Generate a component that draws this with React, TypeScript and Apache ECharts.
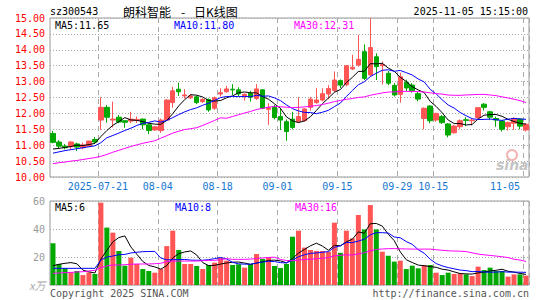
import React, { useEffect, useRef } from "react";
import * as echarts from "echarts";

const dates = [
  "2025-07-09", "2025-07-10", "2025-07-11", "2025-07-14", "2025-07-15", "2025-07-16", "2025-07-17", "2025-07-18",
  "2025-07-21", "2025-07-22", "2025-07-23", "2025-07-24", "2025-07-25", "2025-07-28", "2025-07-29", "2025-07-30",
  "2025-07-31", "2025-08-01", "2025-08-04", "2025-08-05", "2025-08-06", "2025-08-07", "2025-08-08", "2025-08-11",
  "2025-08-12", "2025-08-13", "2025-08-14", "2025-08-15", "2025-08-18", "2025-08-19", "2025-08-20", "2025-08-21",
  "2025-08-22", "2025-08-25", "2025-08-26", "2025-08-27", "2025-08-28", "2025-08-29", "2025-09-01", "2025-09-02",
  "2025-09-03", "2025-09-04", "2025-09-05", "2025-09-08", "2025-09-09", "2025-09-10", "2025-09-11", "2025-09-12",
  "2025-09-15", "2025-09-16", "2025-09-17", "2025-09-18", "2025-09-19", "2025-09-22", "2025-09-23", "2025-09-24",
  "2025-09-25", "2025-09-26", "2025-09-29", "2025-09-30", "2025-10-09", "2025-10-10", "2025-10-13", "2025-10-14",
  "2025-10-15", "2025-10-16", "2025-10-17", "2025-10-20", "2025-10-21", "2025-10-22", "2025-10-23", "2025-10-24",
  "2025-10-27", "2025-10-28", "2025-10-29", "2025-10-30", "2025-10-31", "2025-11-03", "2025-11-04", "2025-11-05",
];

const tickDates = ["2025-07-21", "2025-08-04", "2025-08-18", "2025-09-01", "2025-09-15", "2025-09-29", "2025-10-15", "2025-11-05"];

const opens = [
  11.37, 11.10, 10.97, 10.95, 11.04, 10.92, 10.97, 11.18, 11.79, 12.19,
  11.79, 11.88, 11.77, 11.76, 11.78, 11.82, 11.64, 11.48, 11.46, 11.79,
  12.34, 12.76, 12.55, 12.49, 12.52, 12.37, 12.44, 12.16, 12.61, 12.68,
  12.76, 12.74, 12.53, 12.63, 12.47, 12.74, 12.13, 12.19, 11.90, 11.74,
  11.82, 11.74, 11.77, 12.19, 12.34, 12.42, 12.61, 12.72, 13.03, 12.90,
  13.40, 13.52, 13.94, 13.21, 13.78, 13.50, 13.26, 12.88, 12.60, 12.98,
  12.89, 12.62, 11.84, 12.23, 11.79, 11.90, 11.67, 11.39, 11.58, 11.80,
  11.77, 11.87, 12.29, 12.05, 11.84, 11.76, 11.58, 11.69, 11.82, 11.48,
];
const closes = [
  11.09, 10.97, 10.92, 11.10, 10.94, 11.01, 11.13, 11.10, 12.19, 11.88,
  11.82, 11.73, 11.72, 11.82, 11.81, 11.64, 11.46, 11.58, 11.79, 12.42,
  12.71, 12.68, 12.58, 12.55, 12.34, 12.44, 12.11, 12.49, 12.65, 12.77,
  12.74, 12.61, 12.60, 12.51, 12.77, 12.16, 12.19, 11.87, 11.79, 11.43,
  11.56, 11.90, 12.14, 12.45, 12.42, 12.62, 12.78, 13.05, 12.89, 13.50,
  13.45, 13.70, 13.10, 14.07, 13.47, 13.54, 12.95, 12.58, 13.15, 12.80,
  12.71, 12.45, 12.16, 11.77, 12.00, 11.71, 11.32, 11.60, 11.77, 11.78,
  11.79, 12.18, 12.19, 11.88, 11.79, 11.50, 11.71, 11.84, 11.60, 11.66,
];
const lows = [
  11.06, 10.90, 10.87, 10.87, 10.82, 10.87, 10.95, 11.04, 11.48, 11.71,
  11.56, 11.69, 11.55, 11.69, 11.70, 11.50, 11.35, 11.45, 11.39, 11.79,
  12.18, 12.55, 12.47, 12.45, 12.29, 12.33, 12.05, 12.11, 12.53, 12.65,
  12.58, 12.53, 12.40, 12.37, 12.42, 12.13, 11.64, 11.81, 11.48, 11.14,
  11.50, 11.71, 11.74, 12.09, 12.30, 12.38, 12.45, 12.67, 12.80, 12.85,
  13.36, 13.47, 13.05, 13.16, 13.05, 12.91, 12.89, 12.53, 12.34, 12.70,
  12.65, 12.38, 11.50, 11.69, 11.74, 11.67, 11.25, 11.37, 11.50, 11.60,
  11.62, 11.81, 12.09, 11.79, 11.58, 11.43, 11.46, 11.48, 11.50, 11.43,
];
const highs = [
  11.45, 11.16, 11.04, 11.13, 11.08, 11.08, 11.14, 11.25, 12.51, 12.26,
  12.37, 11.95, 11.79, 12.05, 11.90, 11.84, 11.69, 11.60, 11.84, 12.44,
  12.84, 12.97, 12.76, 12.60, 12.55, 12.48, 12.47, 12.53, 12.79, 12.86,
  12.92, 12.82, 12.63, 12.71, 12.92, 12.76, 12.32, 12.26, 12.18, 11.81,
  12.05, 12.51, 12.16, 12.52, 12.79, 12.79, 12.89, 13.32, 13.07, 13.52,
  13.84, 14.47, 14.17, 14.99, 13.89, 13.63, 13.33, 12.95, 13.28, 13.06,
  12.95, 12.67, 12.19, 12.26, 12.02, 11.95, 11.69, 11.64, 11.81, 11.88,
  11.84, 12.19, 12.32, 12.08, 11.90, 11.79, 11.74, 11.88, 11.84, 11.69,
];
const volumes = [
  29.8, 15.0, 11.9, 9.0, 10.0, 7.1, 9.0, 7.9, 58.8, 41.0,
  37.4, 24.3, 13.8, 19.5, 15.0, 11.4, 10.0, 8.8, 11.4, 27.8,
  38.8, 25.0, 15.0, 15.0, 13.6, 11.4, 14.3, 16.0, 19.5, 17.4,
  14.3, 14.8, 12.4, 14.8, 22.1, 18.6, 19.8, 13.6, 12.1, 15.0,
  34.5, 38.8, 26.7, 25.0, 24.3, 24.3, 23.8, 44.5, 23.0, 38.8,
  33.3, 50.0, 39.7, 57.1, 39.7, 23.8, 20.9, 16.7, 17.4, 11.4,
  13.8, 11.9, 14.3, 14.3, 8.8, 7.1, 8.8, 7.9, 8.3, 7.6,
  6.4, 13.1, 10.7, 12.4, 10.0, 10.0, 6.0, 7.6, 7.6, 6.7,
];

// moving-average values before enough visible history exists
const ma5Head = [10.88, 10.90, 10.93, 10.96];
const ma10Head = [10.75, 10.79, 10.83, 10.86, 10.89, 10.92, 10.95, 10.98, 11.08];
const ma30Head = [
  10.42, 10.45, 10.47, 10.50, 10.52, 10.55, 10.58, 10.61, 10.65, 10.71,
  10.78, 10.84, 10.90, 10.96, 11.01, 11.06, 11.10, 11.14, 11.22, 11.30,
  11.38, 11.44, 11.49, 11.52, 11.55, 11.62, 11.70, 11.78, 11.86,
];
const vma5Head = [13.8, 14.8, 15.5, 16.0];
const vma10Head = [11.9, 11.9, 11.9, 11.9, 11.9, 11.9, 11.9, 11.9, 17.8];
const vma30Head = [
  8.3, 8.6, 8.8, 9.0, 9.3, 9.5, 10.0, 10.5, 12.4, 13.6,
  14.3, 14.3, 14.5, 14.8, 15.0, 15.0, 15.0, 15.2, 15.5, 16.7,
  17.1, 17.1, 17.1, 17.1, 17.1, 17.4, 17.6, 17.6, 18.1,
];

const priceTicks = [10, 15, 0.5];
const volTicks = [0, 60, 20];

const titleCode = "sz300543";
const titleName = "朗科智能";
const titleDash = "-";
const titleKind = "日K线图";
const titleTime = "2025-11-05 15:15:00";
const priceLegend = ["MA5:11.65", "MA10:11.80", "MA30:12.31"];
const volLegend = ["MA5:6", "MA10:8", "MA30:16"];
const volUnit = "x万";
const footLeft = "Copyright 2025 SINA.COM";
const footRight = "http://finance.sina.com.cn";

function movingAverage(arr: number[], n: number, head: number[]) {
  return arr.map((_, i) => {
    if (i < head.length) return head[i];
    let s = 0;
    for (let k = i - n + 1; k <= i; k++) s += arr[k];
    return +(s / n).toFixed(3);
  });
}

const UP = "#ff5555";
const DOWN = "#00a800";
const MONO = '"DejaVu Sans Mono", monospace';
const CJK = '"Noto Sans CJK SC", sans-serif';

export default function App() {
  const ref = useRef<HTMLDivElement>(null);
  useEffect(() => {
    const chart = echarts.init(ref.current!, null, { renderer: "svg" });
    const tickSet = new Set(tickDates);
    const isTick = (idx: number) => tickSet.has(dates[idx]);
    const splitLine = { show: true, interval: (idx: number) => isTick(idx), lineStyle: { color: "#aaa", type: [5, 4], width: 1 } };
    const dotted = { show: true, lineStyle: { color: "#aaa", type: [1, 2], width: 1 } };

    const maLine = (name: string, data: number[], color: string, xi: number) => ({
      name, type: "line", xAxisIndex: xi, yAxisIndex: xi, data, showSymbol: false, symbol: "none",
      lineStyle: { color, width: 1 }, itemStyle: { color }, silent: true, z: 5,
    });

    const txt = (text: string, x: number, y: number, fill: string, extra: any = {}) => ({
      type: "text", x, y, z: 100,
      style: { text, fill, font: `10px ${MONO}`, align: "left", verticalAlign: "middle", ...extra },
    });

    chart.setOption({
      animation: false,
      backgroundColor: "#fff",
      grid: [
        { left: 50, top: 18, width: 479, height: 159, show: true, borderColor: "#999", borderWidth: 1 },
        { left: 50, top: 201, width: 479, height: 84, show: true, borderColor: "#999", borderWidth: 1 },
      ],
      xAxis: [
        {
          type: "category", gridIndex: 0, data: dates, boundaryGap: true,
          axisLine: { show: false }, axisTick: { show: false },
          axisLabel: {
            interval: (idx: number) => isTick(idx),
            formatter: (v: string) => (v === tickDates[0] ? v : v.slice(5)),
            color: "#1677d2", fontFamily: MONO, fontSize: 10, margin: 4, padding: [0, 6, 0, 0],
            alignMaxLabel: "right",
          },
          splitLine,
        },
        {
          type: "category", gridIndex: 1, data: dates, boundaryGap: true,
          axisLine: { show: false }, axisTick: { show: false }, axisLabel: { show: false },
          splitLine,
        },
      ],
      yAxis: [
        {
          type: "value", gridIndex: 0, min: priceTicks[0], max: priceTicks[1], interval: priceTicks[2],
          axisLine: { show: false }, axisTick: { show: false },
          axisLabel: { color: "#ff0000", fontFamily: MONO, fontSize: 10, margin: 5, formatter: (v: number) => v.toFixed(2) },
          splitLine: dotted,
        },
        {
          type: "value", gridIndex: 1, min: volTicks[0], max: volTicks[1], interval: volTicks[2],
          axisLine: { show: false }, axisTick: { show: false },
          axisLabel: { color: "#999", fontFamily: MONO, fontSize: 10, margin: 5, formatter: (v: number) => (v === 0 ? "" : String(v)) },
          splitLine: dotted,
        },
      ],
      series: [
        {
          type: "candlestick", xAxisIndex: 0, yAxisIndex: 0, barWidth: 5,
          data: opens.map((o, i) => [o, closes[i], lows[i], highs[i]]),
          itemStyle: { color: UP, color0: DOWN, borderColor: UP, borderColor0: DOWN, borderWidth: 1 },
          silent: true,
        },
        maLine("MA5", movingAverage(closes, 5, ma5Head), "#000000", 0),
        maLine("MA10", movingAverage(closes, 10, ma10Head), "#0000ff", 0),
        maLine("MA30", movingAverage(closes, 30, ma30Head), "#ff00ff", 0),
        {
          type: "bar", xAxisIndex: 1, yAxisIndex: 1, barWidth: 5, silent: true,
          data: volumes.map((v, i) => ({ value: v, itemStyle: { color: closes[i] >= opens[i] ? UP : DOWN } })),
        },
        maLine("VMA5", movingAverage(volumes, 5, vma5Head), "#000000", 1),
        maLine("VMA10", movingAverage(volumes, 10, vma10Head), "#0000ff", 1),
        maLine("VMA30", movingAverage(volumes, 30, vma30Head), "#ff00ff", 1),
      ],
      graphic: [
        txt(titleCode, 50, 11, "#000"),
        txt(titleName, 123, 11, "#000", { font: `12px ${CJK}` }),
        txt(titleDash, 181, 11, "#000", { font: `12px ${CJK}` }),
        txt(titleKind, 194, 11, "#000", { font: `12px ${CJK}` }),
        txt(titleTime, 528, 11, "#000", { align: "right" }),
        txt(priceLegend[0], 55, 25, "#000"),
        txt(priceLegend[1], 174, 25, "#0000ff"),
        txt(priceLegend[2], 294, 25, "#ff00ff"),
        txt(volLegend[0], 55, 207, "#000"),
        txt(volLegend[1], 175, 207, "#0000ff"),
        txt(volLegend[2], 295, 207, "#ff00ff"),
        txt(volUnit, 29, 285, "#aaa", { font: `italic 11px ${CJK}` }),
        txt(footLeft, 50, 293, "#555"),
        txt(footRight, 529, 293, "#555", { align: "right" }),
        { type: "circle", z: 1, shape: { cx: 512, cy: 155, r: 5 }, style: { fill: "none", stroke: "#f4b4b4", lineWidth: 2 } },
        txt("sina", 496, 165, "#c4c4c4", { font: 'bold italic 14px "DejaVu Sans", sans-serif' }),
      ],
    });
    return () => chart.dispose();
  }, []);
  return <div ref={ref} style={{ position: "absolute", left: 0, top: 0, width: 545, height: 300 }} />;
}
